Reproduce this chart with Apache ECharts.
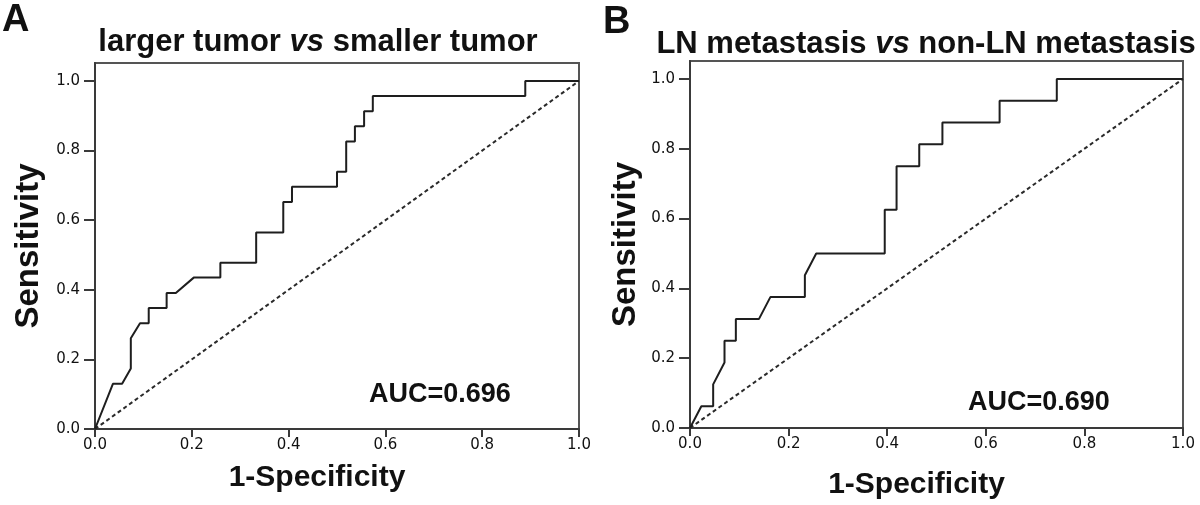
<!DOCTYPE html>
<html>
<head>
<meta charset="utf-8">
<script src="https://cdn.jsdelivr.net/npm/echarts@6/dist/echarts.min.js"></script>
<style>
html,body{margin:0;padding:0;background:#fff;}
#chart{width:1200px;height:505px;}
</style>
</head>
<body>
<div id="chart"></div>
<script>
// ---- data ----
const tickValues = [0, 0.2, 0.4, 0.6, 0.8, 1.0];

const panelA_fpr = [0, 0.037, 0.056, 0.074, 0.074, 0.093, 0.111, 0.111, 0.148, 0.148, 0.167, 0.204, 0.259, 0.259, 0.333, 0.333, 0.389, 0.389, 0.407, 0.407, 0.500, 0.500, 0.519, 0.519, 0.537, 0.537, 0.556, 0.556, 0.574, 0.574, 0.889, 0.889, 1.0];
const panelA_tpr = [0, 0.130, 0.130, 0.174, 0.261, 0.304, 0.304, 0.348, 0.348, 0.391, 0.391, 0.435, 0.435, 0.478, 0.478, 0.565, 0.565, 0.652, 0.652, 0.696, 0.696, 0.739, 0.739, 0.826, 0.826, 0.870, 0.870, 0.913, 0.913, 0.957, 0.957, 1.0, 1.0];

const panelB_fpr = [0, 0.023, 0.047, 0.047, 0.070, 0.070, 0.093, 0.093, 0.140, 0.163, 0.233, 0.233, 0.256, 0.395, 0.395, 0.419, 0.419, 0.465, 0.465, 0.512, 0.512, 0.628, 0.628, 0.744, 0.744, 1.0];
const panelB_tpr = [0, 0.0625, 0.0625, 0.125, 0.1875, 0.25, 0.25, 0.3125, 0.3125, 0.375, 0.375, 0.4375, 0.5, 0.5, 0.625, 0.625, 0.75, 0.75, 0.8125, 0.8125, 0.875, 0.875, 0.9375, 0.9375, 1.0, 1.0];

const refX = [0, 1];
const refY = [0, 1];

const panelLetters = ['A', 'B'];
const titlesBefore = ['larger tumor ', 'LN metastasis '];
const titlesItalic = ['vs', 'vs'];
const titlesAfter = [' smaller tumor', ' non-LN metastasis'];
const aucLabels = ['AUC=0.696', 'AUC=0.690'];
const xName = '1-Specificity';
const yName = 'Sensitivity';

// ---- build chart ----
const zip = (a, b) => a.map((v, i) => [v, b[i]]);
const AX = '#3a3a3a';
const FONT = 'Liberation Sans, Arial, sans-serif';

const grids = [
  {left: 95, top: 63, width: 484, height: 366},
  {left: 690, top: 61, width: 493, height: 369}
];
const yMax = [366 / 348, 369 / 351];

function xAxisFor(i, gap) {
  return {
    gridIndex: i, type: 'value', min: 0, max: 1, interval: 0.2,
    name: xName, nameLocation: 'middle', nameGap: gap,
    nameTextStyle: {fontFamily: FONT, fontWeight: 'bold', fontSize: 30, color: '#111', padding: [0, 40, 0, 0]},
    axisLine: {show: true, onZero: false, lineStyle: {color: AX, width: 2}},
    axisTick: {show: true, length: 8, lineStyle: {color: AX, width: 2}},
    axisLabel: {margin: 9, fontFamily: 'DejaVu Sans', fontSize: 15, color: '#111',
      formatter: v => v.toFixed(1)},
    splitLine: {show: false}
  };
}
function yAxisFor(i, gap) {
  return {
    gridIndex: i, type: 'value', min: 0, max: yMax[i],
    name: yName, nameLocation: 'middle', nameGap: gap, nameRotate: 90,
    nameTextStyle: {fontFamily: FONT, fontWeight: 'bold', fontSize: 33, color: '#111'},
    axisLine: {show: true, onZero: false, lineStyle: {color: AX, width: 2}},
    axisTick: {show: true, length: 11, customValues: tickValues, lineStyle: {color: AX, width: 2}},
    axisLabel: {margin: 15, fontFamily: 'DejaVu Sans', fontSize: 15, color: '#111',
      customValues: tickValues, formatter: v => v.toFixed(1)},
    splitLine: {show: false}
  };
}

function curve(i, xs, ys) {
  return {
    type: 'line', xAxisIndex: i, yAxisIndex: i, data: zip(xs, ys),
    showSymbol: false, symbol: 'none', silent: true, animation: false,
    lineStyle: {color: '#1e1e1e', width: 2}, z: 3
  };
}
function diag(i) {
  return {
    type: 'line', xAxisIndex: i, yAxisIndex: i, data: zip(refX, refY),
    showSymbol: false, symbol: 'none', silent: true, animation: false,
    lineStyle: {color: '#2a2a2a', width: 2, type: [4, 3]}, z: 2
  };
}

function titleText(i, cx, cy) {
  return {
    type: 'text', x: cx, y: cy,
    style: {
      text: '{n|' + titlesBefore[i] + '}{it|' + titlesItalic[i] + '}{n|' + titlesAfter[i] + '}',
      align: 'center', verticalAlign: 'middle',
      rich: {
        n: {fontFamily: FONT, fontWeight: 'bold', fontSize: 31, fill: '#111'},
        it: {fontFamily: FONT, fontWeight: 'bold', fontStyle: 'italic', fontSize: 31, fill: '#111'}
      }
    }
  };
}

const option = {
  backgroundColor: '#fff',
  animation: false,
  grid: grids.map(g => Object.assign({show: true, borderColor: '#555', borderWidth: 2, backgroundColor: 'transparent'}, g)),
  xAxis: [xAxisFor(0, 34), xAxisFor(1, 42)],
  yAxis: [yAxisFor(0, 50), yAxisFor(1, 48)],
  series: [diag(0), curve(0, panelA_fpr, panelA_tpr), diag(1), curve(1, panelB_fpr, panelB_tpr)],
  graphic: [
    {type: 'text', x: 2, y: 2, style: {text: panelLetters[0], font: 'bold 38px ' + FONT, fill: '#111'}},
    {type: 'text', x: 603, y: 4, style: {text: panelLetters[1], font: 'bold 38px ' + FONT, fill: '#111'}},
    titleText(0, 318, 42),
    titleText(1, 926, 44),
    {type: 'text', x: 369, y: 395, style: {text: aucLabels[0], font: 'bold 27px ' + FONT, fill: '#111', verticalAlign: 'middle'}},
    {type: 'text', x: 968, y: 403, style: {text: aucLabels[1], font: 'bold 27px ' + FONT, fill: '#111', verticalAlign: 'middle'}}
  ]
};

const chart = echarts.init(document.getElementById('chart'), null, {renderer: 'canvas'});
chart.setOption(option);
</script>
</body>
</html>
